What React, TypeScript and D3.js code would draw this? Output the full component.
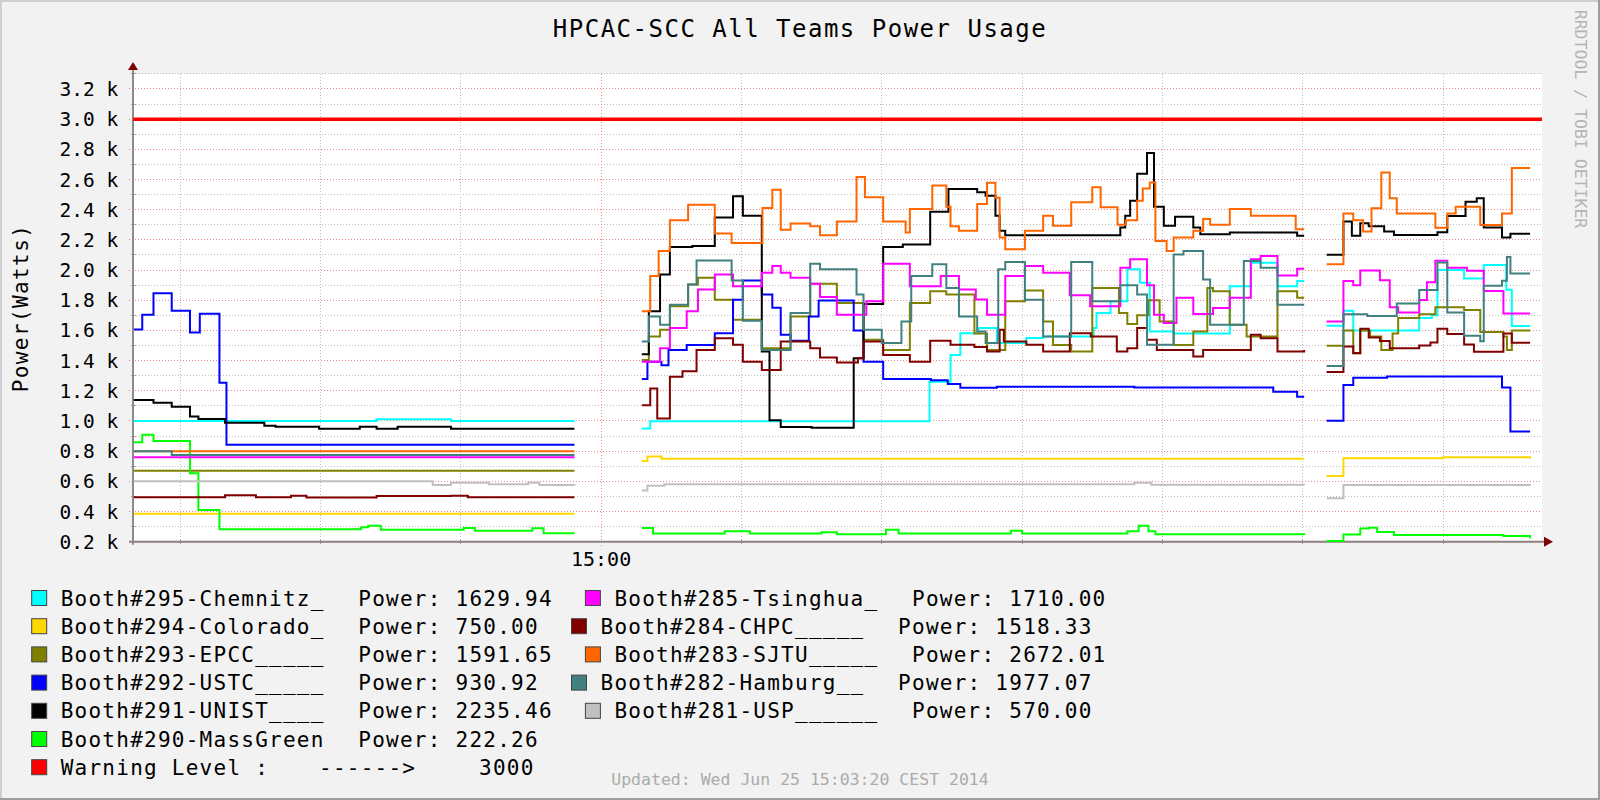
import React from 'react';
import * as d3 from 'd3';

type Pt = [number, number | null];

// x: minutes after 14:00 (Wed Jun 25 2014), y: power in watts; null = no data (gap)
const chemnitz: Pt[] = [
  [26.7, 1000], [44.0, 1012], [49.3, 1000], [58.1, 1000], [60, null],
  [62.9, 950], [63.5, 998], [83.4, 1260], [84.9, 1438], [85.6, 1582], [86.9, 1616], [88.2, 1516], [90.3, 1550],
  [91.5, 1560], [95.1, 1616], [95.3, 1716], [96.3, 1793], [97.5, 2005], [98.4, 1916], [99.1, 1593], [100.8, 1580],
  [104.8, 1893], [106.3, 2049], [108.2, 1893], [109.6, 1927], [110.1, 1927], [111, null],
  [111.7, 1631], [112.9, 1731], [113.6, 1600], [118.3, 1683], [119.2, 1700], [119.6, 2001], [121.5, 1944],
  [122.9, 2034], [124.5, 1870], [124.9, 1630], [126.2, 1630],
];
const colorado: Pt[] = [
  [26.7, 385], [58.1, 385], [60, null],
  [62.9, 735], [63.3, 765], [64.3, 750], [110.1, 750], [111, null],
  [111.7, 635], [112.9, 753], [120.0, 760], [126.2, 750],
];
const epcc: Pt[] = [
  [26.7, 670], [58.1, 670], [60, null],
  [62.9, 1404], [63.4, 1560], [64.2, 1604], [64.9, 1760], [66.2, 1904], [66.9, 1949], [68.1, 1804], [69.4, 1671],
  [71.45, 1482], [73.5, 1693], [74.9, 1909], [76.8, 1782], [78.7, 1538], [80.1, 1471], [82.0, 1782], [83.45, 1860],
  [84.6, 1838], [86.6, 1580], [87.5, 1471], [88.8, 1793], [90.2, 1864], [91.5, 1660], [92.2, 1504], [93.5, 1460],
  [95.0, 1882], [96.9, 1716], [97.5, 1642], [98.2, 1700], [99.0, 1800], [99.8, 1660], [100.8, 1504], [102.2, 1593],
  [103.2, 1882], [103.6, 1860], [104.8, 1638], [106.0, 1560], [108.2, 1860], [109.6, 1816], [110.1, 1816], [111, null],
  [111.7, 1499], [112.9, 1600], [113.6, 1447], [114.1, 1600], [114.8, 1560], [115.6, 1470], [116.4, 1580],
  [116.8, 1683], [118.3, 1707], [119.45, 1754], [121.5, 1735], [122.65, 1589], [124.3, 1560], [124.55, 1470],
  [124.9, 1600], [126.2, 1600],
];
const ustc: Pt[] = [
  [26.7, 1607], [27.3, 1704], [28.1, 1846], [29.4, 1731], [30.7, 1587], [31.4, 1710], [32.8, 1254], [33.3, 843],
  [58.1, 843], [60, null],
  [62.9, 1278], [63.3, 1393], [64.3, 1370], [64.8, 1471], [66.1, 1504], [68.1, 1582], [69.4, 1804], [70.1, 1931],
  [71.45, 1838], [72.2, 1750], [72.8, 1571], [73.5, 1531], [74.8, 1693], [75.5, 1798], [78.0, 1600], [78.7, 1393],
  [80.1, 1278], [83.5, 1270], [84.7, 1245], [85.6, 1220], [88.2, 1227], [98.0, 1222], [107.9, 1193], [109.6, 1160],
  [110.1, 1160], [111, null],
  [111.7, 1002], [112.9, 1238], [113.6, 1286], [116.0, 1295], [124.2, 1222], [124.8, 931], [126.2, 931],
];
const unist: Pt[] = [
  [26.7, 1139], [28.1, 1121], [29.4, 1095], [30.7, 1029], [31.3, 1013], [33.2, 989], [36.0, 969], [36.8, 962],
  [39.9, 949], [42.8, 962], [44.0, 949], [45.5, 962], [49.3, 949], [58.1, 949], [60, null],
  [62.9, 1442], [63.4, 1727], [64.2, 1971], [64.9, 2153], [66.5, 2160], [68.1, 2349], [69.4, 2489], [70.1, 2360],
  [71.45, 1460], [72.0, 1005], [72.8, 960], [75.0, 955], [78.0, 1416], [78.7, 1776], [80.1, 2153], [81.5, 2170],
  [83.45, 2387], [84.75, 2538], [86.8, 2516], [87.4, 2493], [88.1, 2360], [88.4, 2260], [88.8, 2231], [97.0, 2282],
  [97.35, 2360], [97.7, 2460], [98.2, 2638], [98.9, 2776], [99.4, 2420], [100.1, 2293], [100.9, 2353], [102.2, 2282],
  [102.7, 2238], [104.8, 2249], [109.6, 2227], [110.1, 2227], [111, null],
  [111.7, 2102], [112.9, 2322], [113.5, 2228], [114.1, 2311], [114.7, 2290], [115.8, 2256], [116.5, 2232],
  [119.6, 2250], [120.3, 2358], [121.6, 2453], [122.4, 2476], [122.9, 2282], [124.2, 2216], [124.8, 2240], [126.2, 2240],
];
const massGreen: Pt[] = [
  [26.7, 859], [27.3, 908], [28.1, 868], [30.7, 653], [31.3, 410], [32.8, 282], [42.9, 295], [43.4, 306], [44.3, 280],
  [50.2, 290], [51.0, 273], [55.1, 289], [55.9, 256], [58.1, 256], [60, null],
  [62.9, 290], [63.7, 255], [68.8, 270], [70.6, 255], [75.7, 262], [76.8, 250], [80.3, 280], [81.2, 255], [89.2, 272],
  [90.0, 255], [97.5, 270], [98.3, 305], [99.0, 270], [99.5, 250], [110.1, 245], [111, null],
  [111.7, 205], [112.9, 247], [114.1, 287], [114.7, 292], [115.3, 265], [116.5, 245], [124.3, 238], [126.2, 222],
];
const tsinghua: Pt[] = [
  [26.7, 760], [58.1, 760], [60, null],
  [62.9, 1393], [64.2, 1482], [64.9, 1616], [66.1, 1727], [66.9, 1871], [68.1, 1971], [69.4, 1893], [71.45, 1982],
  [72.2, 2027], [72.8, 1982], [73.5, 1949], [74.9, 1909], [75.6, 1822], [76.8, 1704], [78.9, 1793], [80.1, 2042],
  [82.0, 1893], [84.2, 1960], [85.5, 1871], [86.7, 1805], [87.5, 1704], [88.8, 1960], [90.2, 2027], [91.5, 1982],
  [93.4, 1833], [94.85, 1760], [97.0, 2016], [97.7, 2071], [98.9, 1900], [99.4, 1704], [100.1, 1649], [101.0, 1816],
  [102.2, 1709], [103.6, 1749], [104.8, 1816], [106.3, 2071], [107.0, 2093], [108.2, 1964], [109.6, 2009],
  [110.1, 2009], [111, null],
  [111.7, 1660], [112.9, 1927], [113.6, 1900], [114.1, 1998], [115.5, 1932], [116.2, 1754], [116.8, 1719],
  [118.3, 1802], [118.85, 1920], [119.45, 2062], [120.3, 2015], [121.7, 1995], [122.9, 1861], [124.3, 1712], [126.2, 1712],
];
const chpc: Pt[] = [
  [26.7, 495], [33.2, 508], [35.4, 495], [37.9, 505], [39.0, 493], [44.0, 503], [49.3, 505], [50.5, 495], [58.1, 495],
  [60, null],
  [62.9, 1105], [63.5, 1216], [64.0, 1016], [64.9, 1293], [65.8, 1330], [66.8, 1471], [68.1, 1549], [69.4, 1505],
  [70.1, 1393], [71.45, 1338], [72.8, 1527], [74.9, 1482], [75.6, 1420], [76.8, 1387], [78.3, 1416], [78.7, 1527],
  [80.1, 1438], [82.0, 1393], [83.45, 1531], [84.9, 1505], [86.6, 1490], [87.5, 1460], [88.4, 1604], [88.7, 1527],
  [90.3, 1505], [91.5, 1460], [93.4, 1582], [94.9, 1560], [96.75, 1460], [97.5, 1482], [98.2, 1616], [98.9, 1538],
  [99.6, 1471], [102.2, 1427], [102.9, 1471], [106.3, 1571], [107.0, 1549], [108.2, 1460], [110.1, 1471], [111, null],
  [111.7, 1324], [112.9, 1494], [113.6, 1450], [114.1, 1612], [114.7, 1553], [115.5, 1530], [116.2, 1482],
  [118.3, 1500], [119.1, 1520], [119.6, 1612], [120.3, 1577], [121.5, 1506], [122.2, 1459], [124.3, 1580],
  [124.9, 1518], [126.2, 1518],
];
const sjtu: Pt[] = [
  [26.7, 800], [58.1, 800], [60, null],
  [62.9, 1727], [63.5, 1960], [64.1, 2127], [64.9, 2331], [66.2, 2433], [68.1, 2242], [69.3, 2180], [71.5, 2411],
  [72.2, 2533], [72.8, 2267], [73.5, 2309], [74.9, 2290], [75.6, 2231], [76.8, 2322], [78.2, 2616], [78.8, 2482],
  [80.1, 2322], [81.7, 2249], [82.0, 2404], [83.6, 2560], [84.6, 2420], [84.9, 2290], [85.5, 2260], [86.8, 2438],
  [87.5, 2578], [88.1, 2480], [88.4, 2216], [88.8, 2138], [90.2, 2260], [91.5, 2360], [92.2, 2293], [93.5, 2449],
  [95.0, 2549], [95.6, 2416], [96.8, 2300], [97.4, 2330], [98.2, 2460], [98.6, 2540], [99.1, 2580], [99.5, 2193],
  [100.3, 2127], [100.8, 2216], [102.2, 2260], [102.9, 2338], [103.4, 2300], [104.8, 2404], [106.3, 2360],
  [109.5, 2271], [110.1, 2271], [111, null],
  [111.7, 2038], [112.9, 2375], [113.6, 2330], [114.3, 2256], [114.9, 2410], [115.6, 2647], [116.2, 2476],
  [116.7, 2375], [119.45, 2280], [120.3, 2375], [120.9, 2420], [122.65, 2299], [124.2, 2375], [124.9, 2677], [126.2, 2677],
];
const hamburg: Pt[] = [
  [26.7, 800], [29.4, 775], [58.1, 775], [60, null],
  [62.9, 1527], [63.4, 1693], [64.2, 1638], [64.9, 1771], [66.2, 1904], [66.8, 2064], [69.3, 1931], [70.1, 1664],
  [71.45, 1471], [73.5, 1716], [74.9, 2042], [75.6, 2005], [78.2, 1838], [78.7, 1604], [80.0, 1516], [81.4, 1660],
  [82.1, 1960], [83.6, 2038], [84.6, 1882], [85.5, 1693], [86.8, 1593], [87.4, 1516], [88.3, 2005], [88.8, 2053],
  [90.2, 1804], [91.5, 1560], [93.5, 2053], [95.0, 1793], [97.0, 1900], [98.2, 1838], [98.9, 1505], [100.8, 2104],
  [101.5, 2127], [102.9, 1938], [103.4, 1638], [105.1, 1638], [105.8, 2060], [107.0, 2016], [108.2, 1771],
  [110.1, 1771], [111, null],
  [111.7, 1364], [112.9, 1707], [114.6, 1695], [116.7, 1778], [118.3, 1868], [119.6, 2050], [120.3, 1719],
  [121.5, 1565], [122.65, 1529], [122.9, 1896], [124.2, 1930], [124.55, 2086], [124.8, 1977], [126.2, 1977],
];
const usp: Pt[] = [
  [26.7, 600], [48.0, 575], [49.3, 590], [52.0, 580], [54.8, 590], [55.6, 575], [58.1, 572], [60, null],
  [62.9, 540], [63.3, 570], [64.5, 580], [98.0, 590], [99.2, 578], [110.1, 575], [111, null],
  [111.7, 488], [112.9, 576], [126.2, 570],
];

const warningLevel = 3000;
const timeStart = 26.64;
const timeEnd = 127.05;

const leftNames = ['Booth#295-Chemnitz_', 'Booth#294-Colorado_', 'Booth#293-EPCC_____', 'Booth#292-USTC_____',
  'Booth#291-UNIST____', 'Booth#290-MassGreen'];
const leftLast = ['1629.94', '750.00', '1591.65', '930.92', '2235.46', '222.26'];
const leftData = [chemnitz, colorado, epcc, ustc, unist, massGreen];
const leftColors = ['#00FFFF', '#FFD700', '#808000', '#0000FF', '#000000', '#00FF00'];

const rightNames = ['Booth#285-Tsinghua_', 'Booth#284-CHPC_____', 'Booth#283-SJTU_____', 'Booth#282-Hamburg__',
  'Booth#281-USP______'];
const rightLast = ['1710.00', '1518.33', '2672.01', '1977.07', '570.00'];
const rightData = [tsinghua, chpc, sjtu, hamburg, usp];
const rightColors = ['#FF00FF', '#800000', '#FF6600', '#408080', '#C0C0C0'];

const W = 1600;
const H = 800;
const plot = { left: 133, right: 1542, top: 73.9, bottom: 541.7 };
const FONT = '"DejaVu Sans Mono", monospace';
const CW = 13.9; // legend char advance

export default function App() {
  const x = d3.scaleLinear().domain([timeStart, timeEnd]).range([plot.left, plot.right]);
  const y = d3.scaleLinear().domain([200, 3300]).range([plot.bottom, plot.top]);

  const line = d3.line<Pt>()
    .defined(d => d[1] !== null)
    .x(d => x(d[0]))
    .y(d => y(d[1] as number))
    .curve(d3.curveStepAfter);

  const minorY = d3.range(300, 3301, 200);
  const majorY = d3.range(200, 3201, 200);
  const minorX = d3.range(30, 121, 10).filter(t => t !== 60);
  const majorX = [60];
  const fmtTime = d3.timeFormat('%H:%M');
  const base = new Date(2014, 5, 25, 14, 0, 0).getTime();

  const allSeries = [
    ...leftData.map((d, i) => ({ d, c: leftColors[i] })),
    ...rightData.map((d, i) => ({ d, c: rightColors[i] })),
  ];

  const rowY = (i: number) => 605.5 + i * 28.2;
  const leftLabelX = 60.7;
  const powerOffset = 297.6;

  return (
    <svg width={W} height={H} style={{ position: 'absolute', left: 0, top: 0, display: 'block' }}
      fontFamily={FONT}>
      <rect x={0} y={0} width={W} height={H} fill="#F2F2F2" />
      <line x1={0} y1={1} x2={W} y2={1} stroke="#CFCFCF" strokeWidth={2} />
      <line x1={1} y1={0} x2={1} y2={H} stroke="#CFCFCF" strokeWidth={2} />
      <line x1={0} y1={H - 1} x2={W} y2={H - 1} stroke="#9E9E9E" strokeWidth={2} />
      <line x1={W - 1} y1={0} x2={W - 1} y2={H} stroke="#9E9E9E" strokeWidth={2} />

      <rect x={plot.left} y={plot.top} width={plot.right - plot.left} height={plot.bottom - plot.top} fill="#FFFFFF" />

      <g shapeRendering="crispEdges">
        {minorY.map(v => (
          <line key={'my' + v} x1={plot.left} x2={plot.right} y1={y(v)} y2={y(v)}
            stroke="#BDBDBD" strokeDasharray="1,2" />
        ))}
        {minorX.map(t => (
          <line key={'mx' + t} x1={x(t)} x2={x(t)} y1={plot.top} y2={plot.bottom}
            stroke="#BDBDBD" strokeDasharray="1,2" />
        ))}
        {majorY.map(v => (
          <line key={'My' + v} x1={plot.left - 4} x2={plot.right} y1={y(v)} y2={y(v)}
            stroke="#F08A8A" strokeDasharray="1,2" />
        ))}
        {majorX.map(t => (
          <line key={'Mx' + t} x1={x(t)} x2={x(t)} y1={plot.top} y2={plot.bottom + 4}
            stroke="#F08A8A" strokeDasharray="1,2" />
        ))}
        {minorY.map(v => (
          <line key={'ty' + v} x1={plot.left - 2} x2={plot.left + 3} y1={y(v)} y2={y(v)} stroke="#A0A0A0" />
        ))}
        {minorX.map(t => (
          <line key={'tx' + t} x1={x(t)} x2={x(t)} y1={plot.bottom - 3} y2={plot.bottom + 2} stroke="#A0A0A0" />
        ))}
      </g>

      {/* axes */}
      <line x1={plot.left} x2={plot.left} y1={plot.bottom + 3} y2={plot.top - 6} stroke="#8C8C8C" strokeWidth={2} />
      <line x1={plot.left - 4} x2={plot.right + 3} y1={plot.bottom} y2={plot.bottom} stroke="#8C7F7F" strokeWidth={2} />
      <polygon points={`${plot.left - 5},${plot.top - 4} ${plot.left + 5},${plot.top - 4} ${plot.left},${plot.top - 12}`}
        fill="#7F0000" />
      <polygon points={`${plot.right + 2},${plot.bottom - 5} ${plot.right + 2},${plot.bottom + 5} ${plot.right + 11},${plot.bottom}`}
        fill="#7F0000" />

      {/* series */}
      <g fill="none" strokeWidth={2} strokeLinejoin="miter">
        {allSeries.map((s, i) => (
          <path key={i} d={line(s.d) || ''} stroke={s.c} />
        ))}
        <path d={line([[timeStart, warningLevel], [timeEnd, warningLevel]]) || ''} stroke="#FF0000" strokeWidth={3.5} />
      </g>

      {/* y tick labels */}
      {majorY.map(v => (
        <text key={'yl' + v} x={118.3} y={y(v) + 7} textAnchor="end" fontSize={19.5} fill="#000">
          {`${(v / 1000).toFixed(1)} k`}
        </text>
      ))}
      {majorX.map(t => (
        <text key={'xl' + t} x={x(t)} y={566} textAnchor="middle" fontSize={20} fill="#000">
          {fmtTime(new Date(base + t * 60000))}
        </text>
      ))}

      <text x={800} y={37} textAnchor="middle" fontSize={24} letterSpacing={1.5} fill="#000">
        HPCAC-SCC All Teams Power Usage
      </text>
      <text transform="translate(28,308) rotate(-90)" textAnchor="middle" fontSize={21} letterSpacing={1.4} fill="#000">
        Power(Watts)
      </text>
      <text transform="translate(1575,119) rotate(90)" textAnchor="middle" fontSize={16.5} fill="#B4B4B4">
        RRDTOOL / TOBI OETIKER
      </text>
      <text x={800} y={785} textAnchor="middle" fontSize={16.5} fill="#ABABAB">
        Updated: Wed Jun 25 15:03:20 CEST 2014
      </text>

      {/* legend */}
      <g fontSize={21} letterSpacing={1.25} fill="#000">
        {leftNames.map((n, i) => {
          const by = rowY(i);
          const powerText = `Power: ${leftLast[i]}`;
          return (
            <g key={'ll' + i}>
              <rect x={leftLabelX - 29} y={by - 15} width={15} height={15} fill={leftColors[i]}
                stroke="#444" strokeWidth={1} />
              <text x={leftLabelX} y={by}>{n}</text>
              <text x={leftLabelX + powerOffset} y={by}>{powerText}</text>
            </g>
          );
        })}
        {rightNames.map((n, i) => {
          const by = rowY(i);
          const leftPowerEnd = leftLabelX + powerOffset + `Power: ${leftLast[i]}`.length * CW;
          const sx = leftPowerEnd + 32.5;
          const lx = sx + 29;
          return (
            <g key={'rl' + i}>
              <rect x={sx} y={by - 15} width={15} height={15} fill={rightColors[i]} stroke="#444" strokeWidth={1} />
              <text x={lx} y={by}>{n}</text>
              <text x={lx + powerOffset} y={by}>{`Power: ${rightLast[i]}`}</text>
            </g>
          );
        })}
        <g>
          <rect x={leftLabelX - 29} y={rowY(6) - 15} width={15} height={15} fill="#FF0000" stroke="#444" strokeWidth={1} />
          <text x={leftLabelX} y={rowY(6)}>Warning Level :</text>
          <text x={319} y={rowY(6)}>------&gt;</text>
          <text x={479} y={rowY(6)}>{warningLevel}</text>
        </g>
      </g>
    </svg>
  );
}
